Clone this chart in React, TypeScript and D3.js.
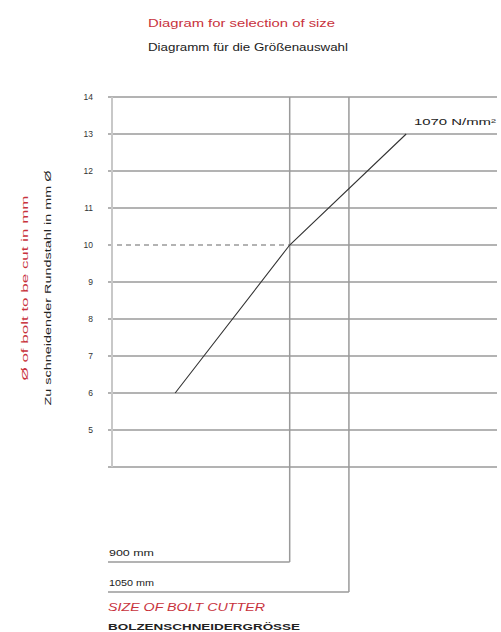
import React from "react";
import * as d3 from "d3";

const W = 501;
const H = 632;

const yTicks = [14, 13, 12, 11, 10, 9, 8, 7, 6, 5];
const gridValues = [14, 13, 12, 11, 10, 9, 8, 7, 6, 5, 4];
const curveSizes = [610, 900, 1195];
const curveDiameters = [6, 10, 13];
const cutterSizes = [900, 1050];
const cutterLabels = ["900 mm", "1050 mm"];
const titleEn = "Diagram for selection of size";
const titleDe = "Diagramm für die Größenauswahl";
const yLabelEn = "Ø of bolt to be cut in mm";
const yLabelDe = "Zu schneidender Rundstahl in mm Ø";
const xLabelEn = "SIZE OF BOLT CUTTER";
const xLabelDe = "BOLZENSCHNEIDERGRÖSSE";
const curveLabel = "1070 N/mm²";

export default function App() {
  const y = d3.scaleLinear().domain([4, 14]).range([467, 97]);
  const x = d3.scaleLinear().domain([450, 1425]).range([112, 497]);
  const left = x(450);
  const right = x(1425);
  const RED = "#c8323c";
  const GRID = "#9a9a9a";
  const font = "'Liberation Sans', Arial, sans-serif";

  const pts: [number, number][] = curveSizes.map((s, i) => [s, curveDiameters[i]]);
  const line = d3
    .line<[number, number]>()
    .x((d) => x(d[0]))
    .y((d) => y(d[1]));

  const cutterY = [562, 592];

  return (
    <svg
      width={W}
      height={H}
      style={{ position: "absolute", left: 0, top: 0, background: "#fff" }}
      fontFamily={font}
    >
      <text x={148} y={27} fontSize={10} fill={RED} textLength={187} lengthAdjust="spacingAndGlyphs">
        {titleEn}
      </text>
      <text x={148} y={51} fontSize={10} fill="#222" textLength={200} lengthAdjust="spacingAndGlyphs">
        {titleDe}
      </text>

      <text
        transform={`translate(28, 288) rotate(-90)`}
        textAnchor="middle"
        fontSize={8.5}
        fill={RED}
        textLength={185}
        lengthAdjust="spacingAndGlyphs"
      >
        {yLabelEn}
      </text>
      <text
        transform={`translate(51, 288) rotate(-90)`}
        textAnchor="middle"
        fontSize={8.5}
        fill="#222"
        textLength={235}
        lengthAdjust="spacingAndGlyphs"
      >
        {yLabelDe}
      </text>

      {/* horizontal grid */}
      {gridValues.map((v) =>
        v === 10 ? (
          <g key={v}>
            <line x1={left - 4} x2={x(900)} y1={y(v)} y2={y(v)} stroke={GRID} strokeWidth={1.5} strokeDasharray="5,4" />
            <line x1={x(900)} x2={right} y1={y(v)} y2={y(v)} stroke={GRID} strokeWidth={1.5} />
          </g>
        ) : (
          <line key={v} x1={left - 4} x2={right} y1={y(v)} y2={y(v)} stroke={GRID} strokeWidth={1.5} />
        )
      )}
      {/* y axis */}
      <line x1={left} x2={left} y1={y(14)} y2={y(4)} stroke="#c8c8c8" strokeWidth={2} />
      {yTicks.map((v) => (
        <text key={v} x={93} y={y(v) + 3} textAnchor="end" fontSize={8.5} fill="#333">
          {v}
        </text>
      ))}

      {/* cutter reference lines */}
      {cutterSizes.map((s, i) => (
        <g key={s}>
          <line x1={x(s)} x2={x(s)} y1={y(14)} y2={cutterY[i]} stroke={GRID} strokeWidth={1.5} />
          <line x1={left - 4} x2={x(s)} y1={cutterY[i]} y2={cutterY[i]} stroke={GRID} strokeWidth={1.5} />
          <text x={109} y={cutterY[i] - 6} fontSize={8.5} fill="#222" textLength={45} lengthAdjust="spacingAndGlyphs">
            {cutterLabels[i]}
          </text>
        </g>
      ))}

      {/* curve */}
      <path d={line(pts) || ""} fill="none" stroke="#333" strokeWidth={1.1} />
      <text x={414} y={125} fontSize={8.5} fill="#222" textLength={82} lengthAdjust="spacingAndGlyphs">
        {curveLabel}
      </text>

      <text x={108} y={611} fontSize={10} fontStyle="italic" fill={RED} textLength={157} lengthAdjust="spacingAndGlyphs">
        {xLabelEn}
      </text>
      <text x={108} y={630} fontSize={9} fontWeight="bold" fill="#222" textLength={192} lengthAdjust="spacingAndGlyphs">
        {xLabelDe}
      </text>
    </svg>
  );
}
